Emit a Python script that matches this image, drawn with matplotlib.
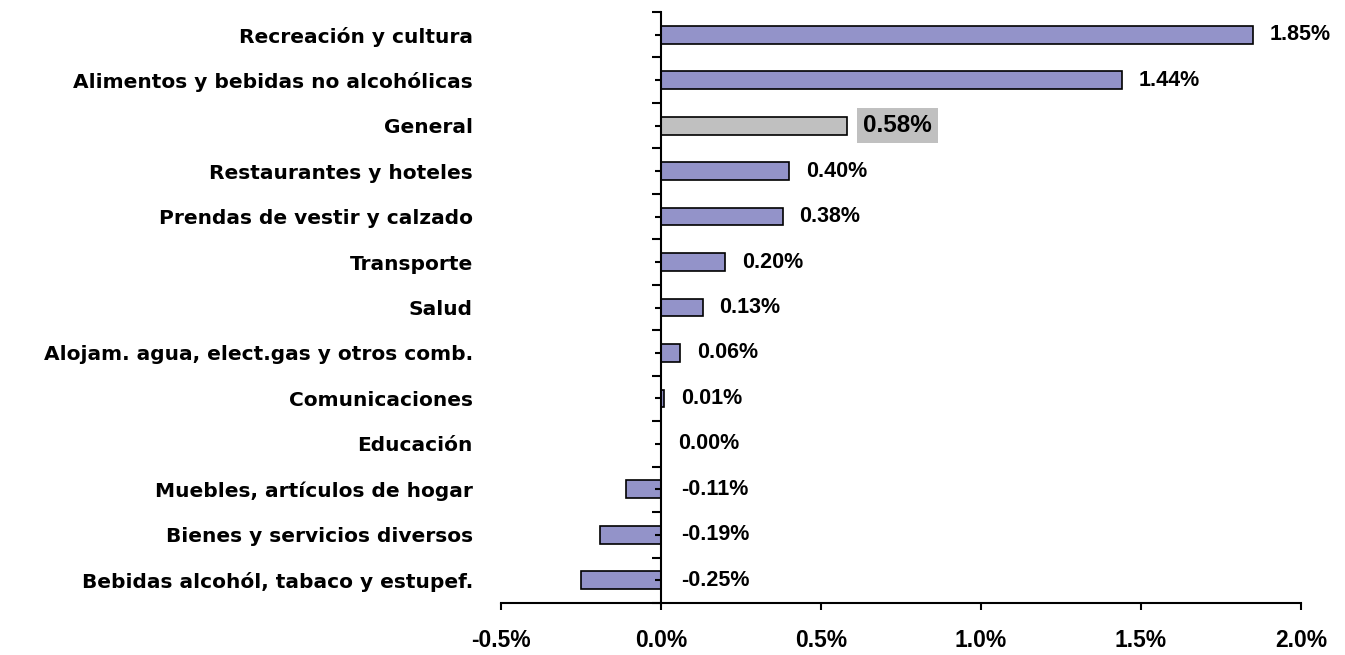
import numpy as np
from matplotlib import pyplot as plt
import matplotlib as mpl

plt.rcParams['font.family'] = ['Liberation Sans', 'DejaVu Sans']
plt.rcParams['font.weight'] = 'bold'

# datos (de arriba hacia abajo)
categorias = ['Recreación y cultura',
        'Alimentos y bebidas no alcohólicas',
        'General',
        'Restaurantes y hoteles',
        'Prendas de vestir y calzado',
        'Transporte',
        'Salud',
        'Alojam. agua, elect.gas y otros comb.',
        'Comunicaciones',
        'Educación',
        'Muebles, artículos de hogar',
        'Bienes y servicios diversos',
        'Bebidas alcohól, tabaco y estupef.']
valores = [1.85, 1.44, 0.58, 0.40, 0.38, 0.20, 0.13, 0.06, 0.01, 0.00, -0.11, -0.19, -0.25]
etiquetas = ['1.85%', '1.44%', '0.58%', '0.40%', '0.38%', '0.20%', '0.13%',
        '0.06%', '0.01%', '0.00%', '-0.11%', '-0.19%', '-0.25%']
xticks = [-0.5, 0.0, 0.5, 1.0, 1.5, 2.0]

azul = '#9393C9'
gris = '#C0C0C0'
colores = [gris if c == 'General' else azul for c in categorias]

px = 1/100
fig = plt.figure(figsize=(1345*px, 655*px), dpi=100)
ax = fig.add_axes([501/1345, 1-603/655, 800/1345, 591/655])

y = np.arange(len(categorias))
ax.barh(y, valores, height=0.39, color=colores, edgecolor='black', linewidth=1.2)

ax.set_xlim(-0.5, 2.0)
ax.set_ylim(len(categorias)-0.5, -0.5)

# ejes
for s in ['top', 'right']:
    ax.spines[s].set_visible(False)
ax.spines['left'].set_position(('data', 0))
ax.spines['left'].set_linewidth(1.5)
ax.spines['bottom'].set_linewidth(1.5)

ax.set_xticks(xticks)
ax.set_xticklabels(['{:.1f}%'.format(t) for t in xticks])
ax.tick_params(axis='x', direction='out', length=5, width=1.5, pad=14, labelsize=16.5)

ax.set_yticks(y)
ax.set_yticklabels(categorias, family=['DejaVu Sans'], fontsize=14.5)
ax.set_yticks(np.arange(-0.5, len(categorias)), minor=True)
ax.tick_params(axis='y', which='major', direction='out', length=4.5, width=1.5,
        pad=131)
ax.tick_params(axis='y', which='minor', direction='out', length=6.5, width=1.5)

# etiquetas de datos
for yi, v, lab, c in zip(y, valores, etiquetas, categorias):
    if v < 0:
        xpos = 0.062
    else:
        xpos = v + 0.052
    if c == 'General':
        ax.text(xpos, yi, lab, va='center', ha='left', fontsize=17.5,
                fontweight='bold',
                bbox=dict(facecolor=gris, edgecolor='none', pad=4.5))
    else:
        ax.text(xpos, yi, lab, va='center', ha='left', fontsize=15.5,
                fontweight='bold')

plt.savefig('out.png', dpi=100)
